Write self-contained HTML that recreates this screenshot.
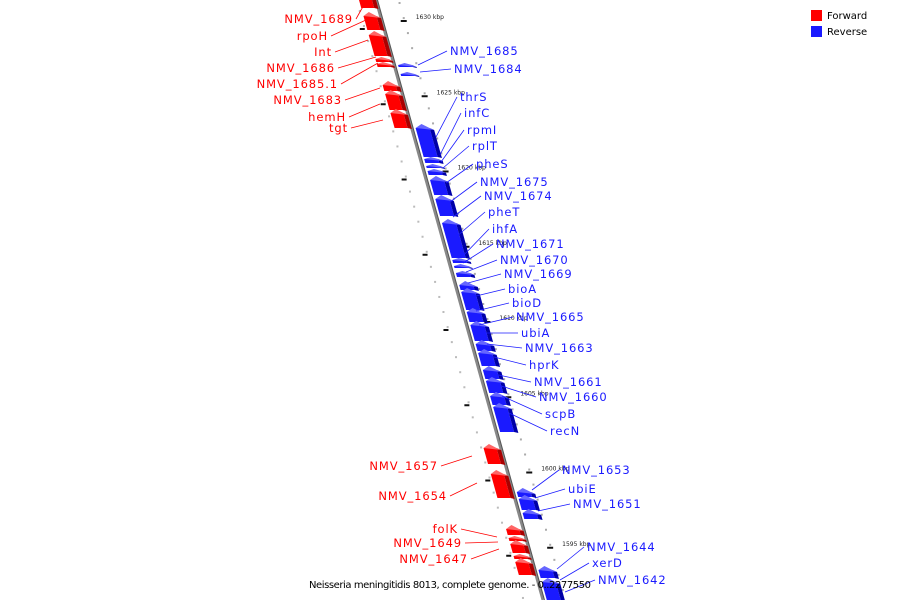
<!DOCTYPE html>
<html><head><meta charset="utf-8"><style>
body{margin:0;background:#fff;}
svg{display:block;}
text{font-family:"DejaVu Sans","Liberation Sans",sans-serif;}
</style></head><body>
<svg id="c" width="900" height="600" xmlns="http://www.w3.org/2000/svg">
<rect width="900" height="600" fill="#fff"/>
<g>
<rect x="811" y="10" width="11" height="11" fill="#f00"/>
<text x="827" y="19" font-size="10">Forward</text>
<rect x="811" y="26" width="11" height="11" fill="#00f" fill-opacity="0.9"/>
<text x="827" y="35" font-size="10">Reverse</text>
</g>
<g id="ticks"></g>
<line x1="376" y1="0" x2="543" y2="600" stroke="#888" stroke-width="3"/>
<line x1="377.5" y1="0" x2="544.5" y2="600" stroke="#555" stroke-width="1"/>
<g id="genes"></g>
<g id="labels"></g>
<text x="309" y="588" font-size="10" textLength="282" lengthAdjust="spacing">Neisseria meningitidis 8013, complete genome. - 0..2277550</text>
</svg>
<script>
const NS="http://www.w3.org/2000/svg";
// kbp tick labels
const tickKbp=[1630,1625,1620,1615,1610,1605,1600,1595];
// forward genes [startY, endY] along axis
const fwdGenes=[[-5,8],[14,30],[33,56],[57,62],[62,67],[83,91],[92,110],[111,128],[446,464],[472,498],[527,535],[536,541],[542,553],[554,559],[560,575]];
// reverse genes
const revGenes=[[63,67],[72,76],[126,157],[157,163],[164,168],[169,175],[178,195],[197,216],[221,258],[258,263],[264,268],[271,277],[283,290],[290,310],[310,322],[323,341],[342,351],[351,366],[368,379],[379,393],[394,405],[405,432],[490,497],[497,510],[511,519],[568,578],[580,600]];
const fwdNames=["NMV_1689","rpoH","Int","NMV_1686","NMV_1685.1","NMV_1683","hemH","tgt","NMV_1657","NMV_1654","folK","NMV_1649","NMV_1647"];
const fwdLab=[[353,19,365,3],[328,36,366,20],[332,52,368,40],[335,68,376,57],[338,84,378,63],[342,100,380,88],[346,117,380,104],[348,128,383,120],[438,466,472,456],[447,496,477,483],[458,529,497,537],[462,543,498,542],[468,559,499,549]];
const revNames=["NMV_1685","NMV_1684","thrS","infC","rpmI","rplT","pheS","NMV_1675","NMV_1674","pheT","ihfA","NMV_1671","NMV_1670","NMV_1669","bioA","bioD","NMV_1665","ubiA","NMV_1663","hprK","NMV_1661","NMV_1660","scpB","recN","NMV_1653","ubiE","NMV_1651","NMV_1644","xerD","NMV_1642"];
const revLab=[[450,51,418,65],[454,69,420,72],[460,97,436,137],[464,113,440,155],[467,130,441,162],[472,146,443,168],[476,164,446,183],[480,182,450,202],[484,196,453,217],[488,212,456,237],[492,229,461,258],[496,244,463,263],[500,260,466,272],[504,274,468,283],[508,289,472,297],[512,303,476,311],[516,317,479,325],[521,333,483,333],[525,348,487,344],[529,365,490,356],[534,382,494,374],[539,397,498,385],[545,414,502,396],[550,431,509,413],[562,470,532,490],[568,489,535,498],[573,504,538,511],[587,547,557,569],[592,563,560,580],[598,580,565,592]];

const lx=y=>376+0.278*y;
const kY=k=>17+(1630-k)*15.05;
function el(t,a,p){const e=document.createElementNS(NS,t);for(const k in a)e.setAttribute(k,a[k]);p.appendChild(e);return e;}
const tg=document.getElementById('ticks');
// dots
for(let y=2;y<600;y+=15.05){
  const d=el('rect',{x:lx(y)+22,y:y,width:2,height:2,fill:'#aaa'},tg);
  
  
  const d2=el('rect',{x:lx(y+8)-20,y:y+8,width:2,height:2,fill:'#bbb'},tg);
  
  
}
tickKbp.forEach((k,i)=>{
  const y=kY(k);
  const d=el('rect',{x:lx(y)+20,y:y+3,width:6,height:2,fill:'#111'},tg);
  
  
  const t=el('text',{x:lx(y)+35,y:y+2,'font-size':6,'font-family':'Liberation Serif,serif',fill:'#222'},tg);
  t.textContent=k+' kbp';
  
  
  const y2=y+11;
  const d3=el('rect',{x:lx(y2)-24,y:y2,width:5,height:2,fill:'#111'},tg);
  
  
});
const gg=document.getElementById('genes');
function gene(y0,y1,dir){
  const g=el('g',{},gg);
  
  
  const h=y1-y0, small=h<7;
  const a=dir>0?-4:4, b=dir>0?-17:18, w=4;
  const col=dir>0?'#f00':'#1a1aff', dk=dir>0?'#a00':'#0000a8', lt=dir>0?'#f66':'#66f';
  const P=(o,y)=>(lx(y)+o)+','+y;
  const inner=Math.max(a,b)+0, outer=Math.min(a,b);
  el('polygon',{points:[P(outer,y0+2),P(inner,y0+2),P(inner,y1),P(outer,y1)].join(' '),fill:col},g);
  el('polygon',{points:[P(inner,y0+2),P(inner+w,y0+4),P(inner+w,y1+1),P(inner,y1)].join(' '),fill:dk},g);
  el('polygon',{points:[P(outer,y0+2),P((outer+inner)/2,y0-(small?0:2)),P(inner,y0+2),P(inner+w,y0+4)].join(' '),fill:lt},g);
}
fwdGenes.forEach(g=>gene(g[0],g[1],1));
revGenes.forEach(g=>gene(g[0],g[1],-1));
const lg=document.getElementById('labels');
function label(name,L,dir){
  const c=dir>0?'#f00':'#1a1aff';
  const ln=el('line',{x1:dir>0?L[0]+3:L[0]-3,y1:L[1],x2:L[2],y2:L[3],stroke:c,'stroke-width':0.8},lg);
  
  
  const t=el('text',{x:L[0],y:L[1]+4,'font-size':11.5,'letter-spacing':0.9,fill:c,'text-anchor':dir>0?'end':'start'},lg);
  t.textContent=name;
  
  
}
fwdNames.forEach((n,i)=>label(n,fwdLab[i],1));
revNames.forEach((n,i)=>label(n,revLab[i],-1));
</script>
</body></html>
